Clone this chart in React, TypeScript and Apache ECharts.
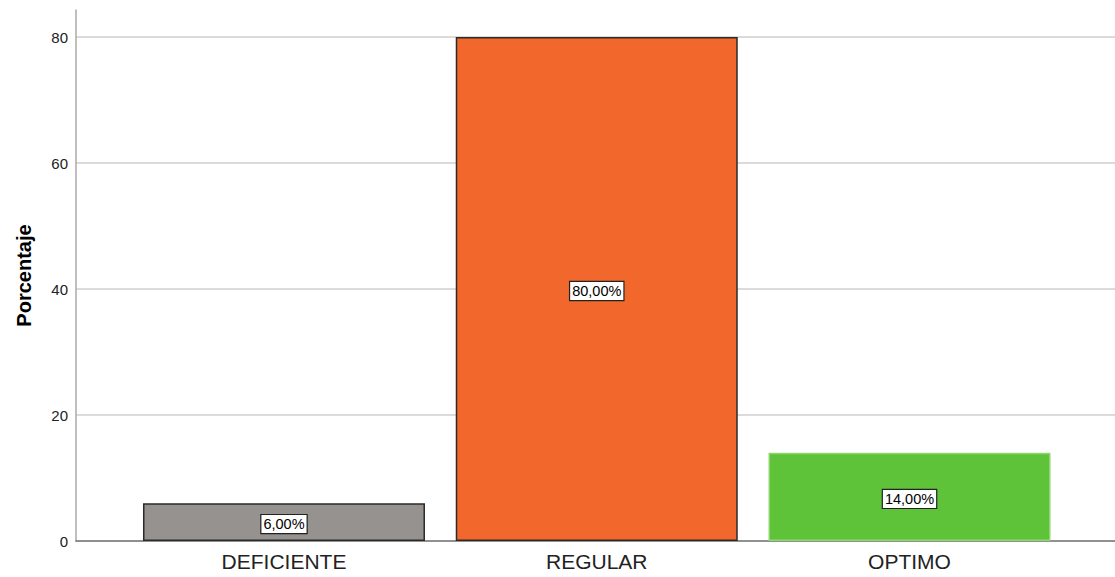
import React, { useEffect, useRef } from "react";
import * as echarts from "echarts";

const categories = ["DEFICIENTE", "REGULAR", "OPTIMO"];
const percentages = [6, 80, 14];
const yTicks = [0, 20, 40, 60, 80];

const fillColors = ["#959290", "#F2682C", "#5FC33A"];
const edgeColors = ["#2b2b2b", "#2b2b2b", "#8fd870"];

export default function App() {
  const ref = useRef<HTMLDivElement>(null);

  useEffect(() => {
    document.body.style.margin = "0";
    if (!ref.current) return;
    const chart = echarts.init(ref.current, null, { renderer: "svg" });
    const font = "'Liberation Sans', Arial, sans-serif";

    chart.setOption({
      animation: false,
      backgroundColor: "#ffffff",
      grid: { left: 76, right: 0, top: 10, bottom: 36 },
      xAxis: {
        type: "value",
        min: -0.665,
        max: 2.657,
        splitLine: { show: false },
        axisTick: { show: false },
        axisLine: { show: true, lineStyle: { color: "#777777", width: 1.5 } },
        axisLabel: {
          customValues: [0, 1, 2],
          formatter: (v: number) => categories[Math.round(v)] ?? "",
          fontFamily: font,
          fontSize: 21,
          color: "#222222",
          margin: 10,
        },
      },
      yAxis: {
        type: "value",
        min: 0,
        max: 84.3,
        name: "Porcentaje",
        nameLocation: "middle",
        nameGap: 42,
        nameTextStyle: {
          fontFamily: font,
          fontSize: 20,
          fontWeight: "bold",
          color: "#000000",
        },
        axisLine: {
          show: true,
          onZero: false,
          lineStyle: { color: "#aaaaaa", width: 1.5 },
        },
        axisTick: { show: false, customValues: yTicks },
        axisLabel: {
          customValues: yTicks,
          fontFamily: font,
          fontSize: 15,
          color: "#222222",
          margin: 8,
        },
        splitLine: {
          show: true,
          lineStyle: { color: "#cfcfcf", width: 1.5 },
        },
      },
      series: [
        {
          type: "bar",
          barWidth: 282,
          data: percentages.map((v, i) => ({
            value: [i, v],
            itemStyle: {
              color: fillColors[i],
              borderColor: edgeColors[i],
              borderWidth: 1.5,
            },
          })),
          label: {
            show: true,
            position: "inside",
            offset: [0, 2],
            formatter: (p: any) => p.value[1].toFixed(2).replace(".", ",") + "%",
            fontFamily: font,
            fontSize: 14.5,
            color: "#000000",
            backgroundColor: "#ffffff",
            borderColor: "#222222",
            borderWidth: 1.2,
            padding: [2, 2, 1, 2],
          },
        },
      ],
    });

    return () => chart.dispose();
  }, []);

  return <div ref={ref} style={{ width: 1115, height: 577 }} />;
}
